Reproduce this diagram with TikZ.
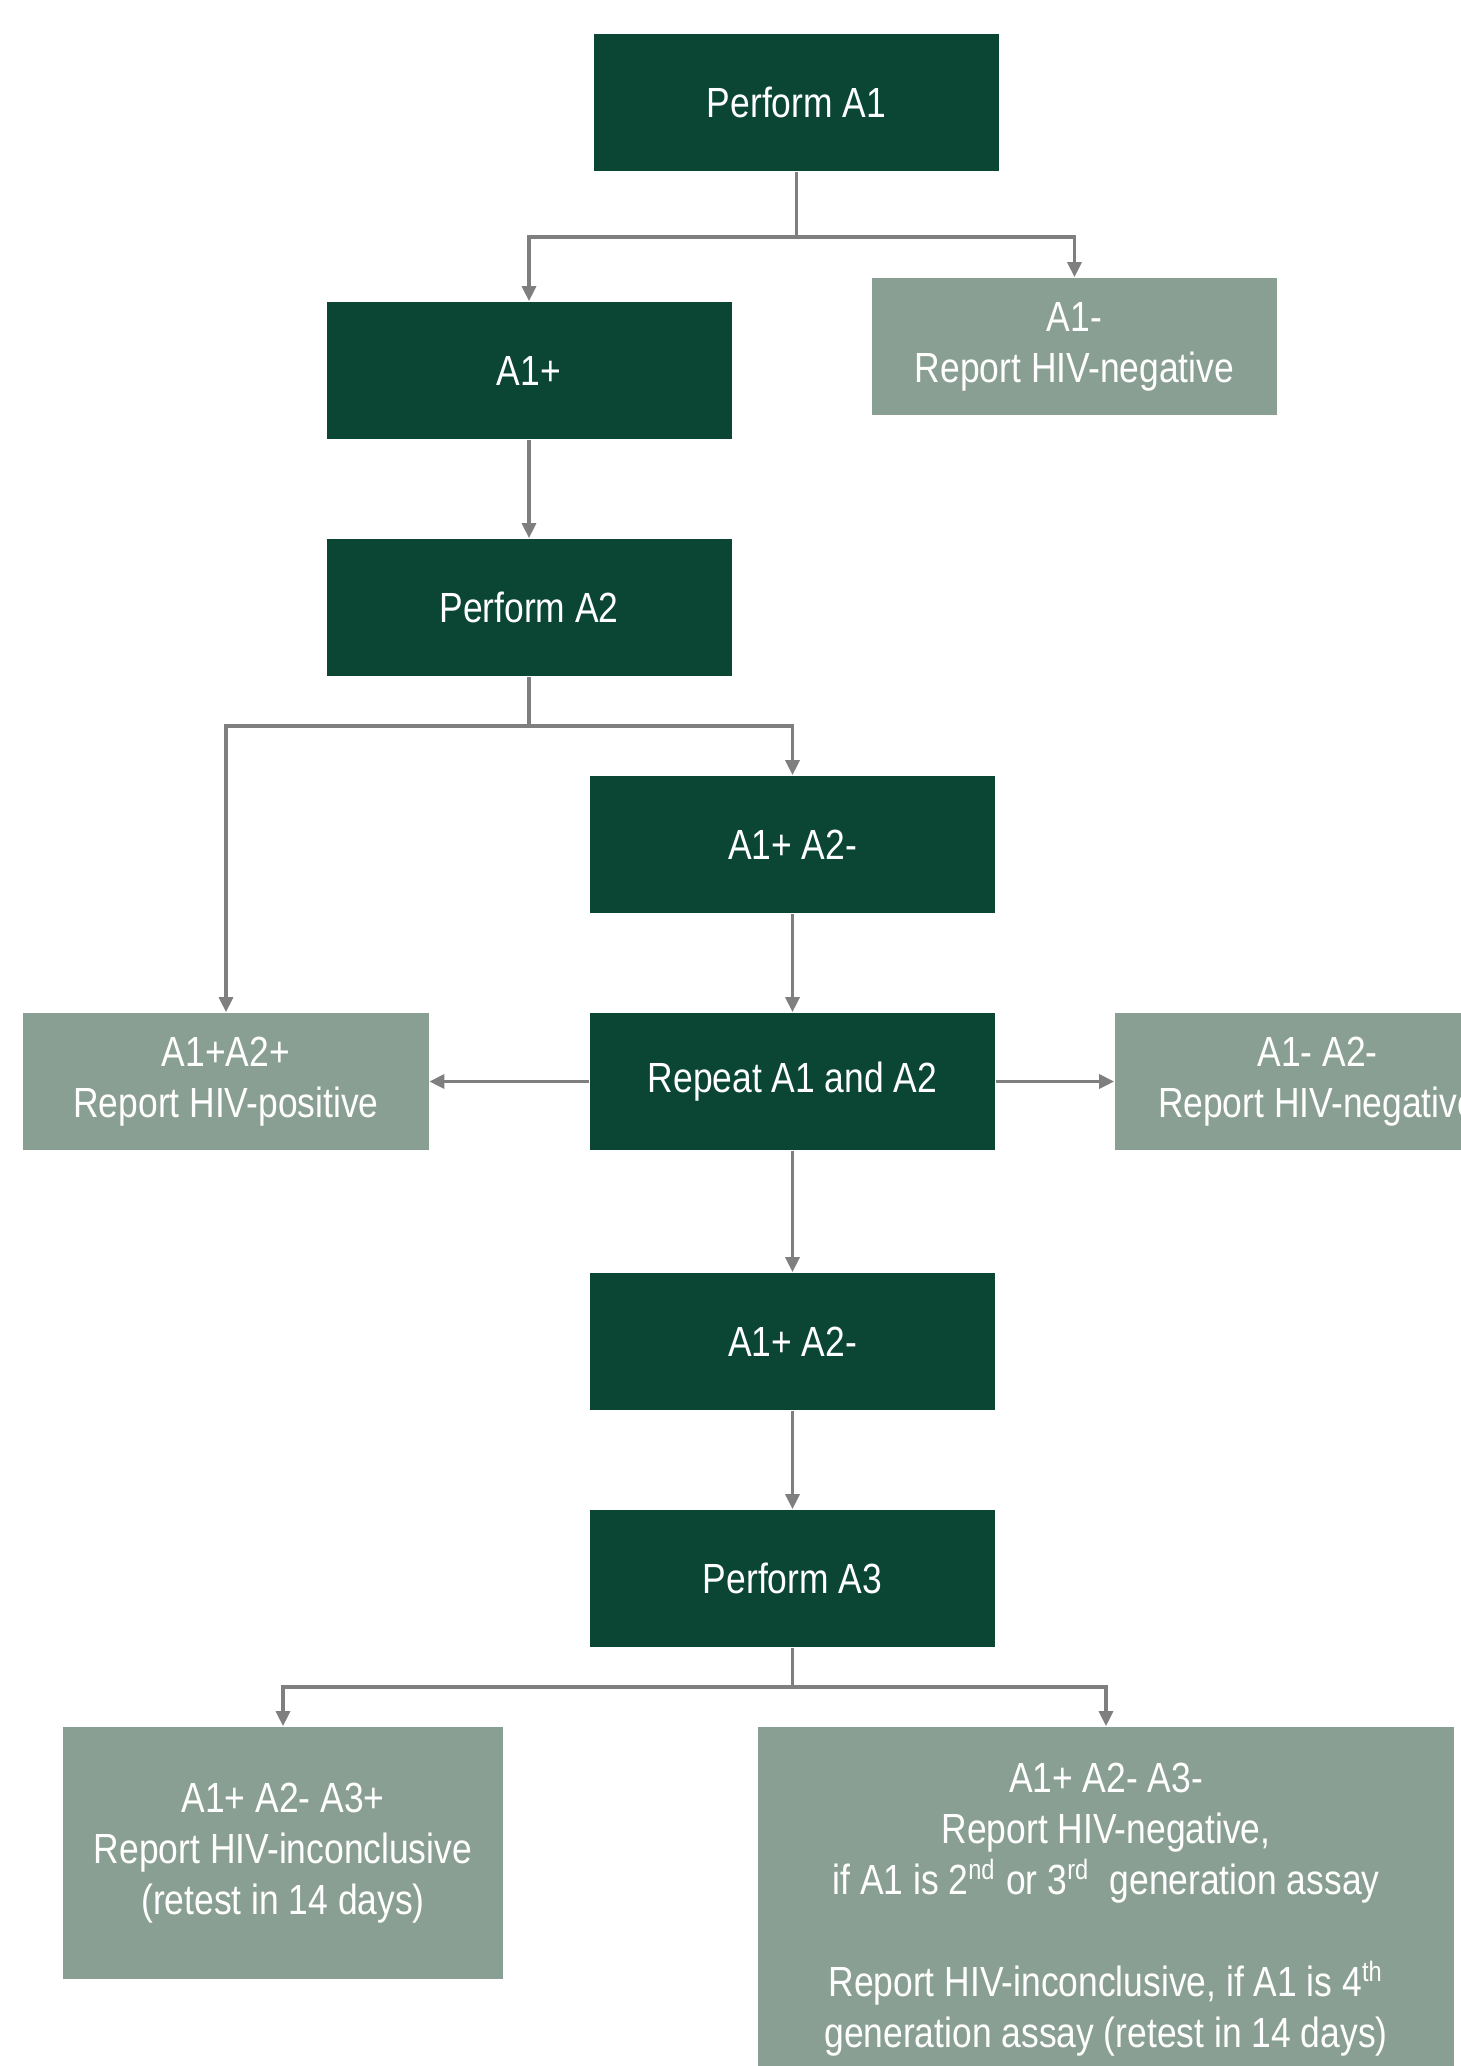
\documentclass[tikz,border=0pt]{standalone}
\usepackage{fontspec}
\setmainfont{Liberation Sans}[FakeStretch=0.84]
\usetikzlibrary{arrows.meta}
\definecolor{scuro}{HTML}{0B4635}
\definecolor{chiaro}{HTML}{8A9F93}
\definecolor{grigio}{HTML}{7F7F7F}
\begin{document}
\begin{tikzpicture}[
    box/.style={draw=none, minimum width=4.05cm, minimum height=1.37cm,
        align=center, text=white, font=\fontsize{12}{14.5}\selectfont},
    passo/.style={box, fill=scuro},
    esito/.style={box, fill=chiaro},
    link/.style={draw=grigio, line width=1.1pt},
    freccia/.style={link, -{Triangle[length=4.3pt, width=3.9pt]}}
]
    \useasboundingbox (0,0) rectangle (14.61,-20.66);
    \clip (0,0) rectangle (14.61,-20.66);

    % -- Primo test --
    \node[passo] (pa1) at (7.965,-1.025) {Perform A1};
    \node[passo] (a1p) at (5.29,-3.705) {A1+};
    \node[esito] (a1n) at (10.745,-3.465) {A1-\\Report HIV-negative};
    \coordinate (f1) at (7.965,-2.37);
    \draw[link] (pa1) -- (f1);
    \draw[freccia] (f1) -| (a1p);
    \draw[freccia] (f1) -| (a1n);

    % -- Secondo test --
    \node[passo] (pa2) at (5.29,-6.075) {Perform A2};
    \draw[freccia] (a1p) -- (pa2);
    \node[passo] (a12) at (7.925,-8.445) {A1+ A2-};
    \node[esito] (pos) at (2.26,-10.815) {A1+A2+\\Report HIV-positive};
    \coordinate (f2) at (5.29,-7.26);
    \draw[link] (pa2) -- (f2);
    \draw[freccia] (f2) -| (pos);
    \draw[freccia] (f2) -| (a12);

    % -- Ripetizione --
    \node[passo] (rep) at (7.925,-10.815) {Repeat A1 and A2};
    \node[esito] (neg) at (13.175,-10.815) {A1- A2-\\Report HIV-negative};
    \draw[freccia] (a12) -- (rep);
    \draw[freccia] (rep) -- (pos);
    \draw[freccia] (rep) -- (neg);

    \node[passo] (a12b) at (7.925,-13.415) {A1+ A2-};
    \draw[freccia] (rep) -- (a12b);

    % -- Terzo test --
    \node[passo] (pa3) at (7.925,-15.785) {Perform A3};
    \draw[freccia] (a12b) -- (pa3);
    \node[esito, minimum width=4.4cm, minimum height=2.52cm] (inc) at (2.83,-18.53)
        {A1+ A2- A3+\\Report HIV-inconclusive\\(retest in 14 days)};
    \node[esito, minimum width=6.96cm, minimum height=3.66cm] (fin) at (11.06,-19.1)
        {A1+ A2- A3-\\Report HIV-negative,\\
         if A1 is 2\textsuperscript{nd} or 3\textsuperscript{rd}\ \ generation assay\\[14.5pt]
         Report HIV-inconclusive,\ if A1 is 4\textsuperscript{th}\\
         generation\ assay (retest in 14 days)};
    \coordinate (f3) at (7.925,-16.87);
    \draw[link] (pa3) -- (f3);
    \draw[freccia] (f3) -| (inc);
    \draw[freccia] (f3) -| (fin);

\end{tikzpicture}
\end{document}
